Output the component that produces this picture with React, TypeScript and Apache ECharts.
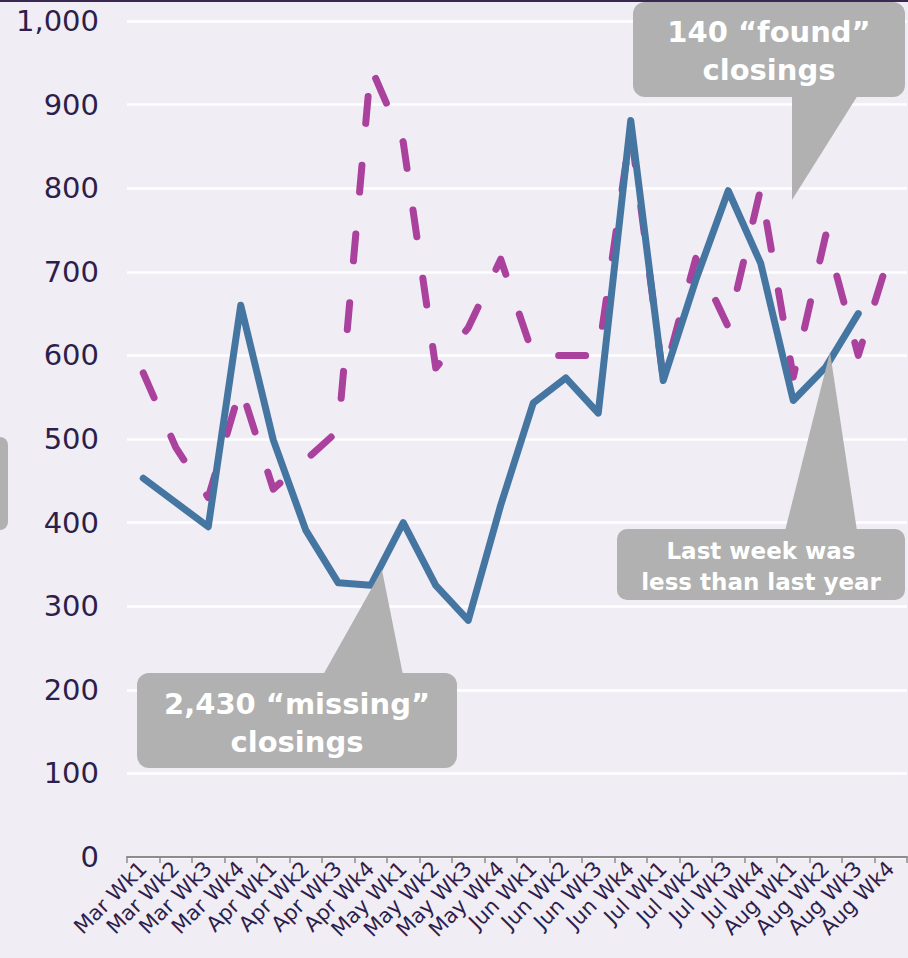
import React, { useEffect, useRef } from "react";
import * as echarts from "echarts";

const categories = [
  "Mar Wk1", "Mar Wk2", "Mar Wk3", "Mar Wk4",
  "Apr Wk1", "Apr Wk2", "Apr Wk3", "Apr Wk4",
  "May Wk1", "May Wk2", "May Wk3", "May Wk4",
  "Jun Wk1", "Jun Wk2", "Jun Wk3", "Jun Wk4",
  "Jul Wk1", "Jul Wk2", "Jul Wk3", "Jul Wk4",
  "Aug Wk1", "Aug Wk2", "Aug Wk3", "Aug Wk4",
];

const thisYear: (number | null)[] = [
  453, 424, 395, 660, 499, 391, 328, 325, 400, 325, 283, 421,
  543, 573, 531, 881, 570, 690, 797, 710, 546, 586, 650, null,
];

const lastYear: number[] = [
  579, 490, 430, 562, 440, 475, 510, 945, 855, 585, 633, 715,
  600, 600, 600, 870, 572, 716, 634, 800, 574, 744, 600, 725,
];

const yTicks = [0, 100, 200, 300, 400, 500, 600, 700, 800, 900, 1000];

const callouts = [
  { text: "140 “found”\nclosings" },
  { text: "2,430 “missing”\nclosings" },
  { text: "Last week was\nless than last year" },
];

const GREY = "#b0b1b0";
const INK = "#2d1e4b";

export default function App() {
  const ref = useRef<HTMLDivElement>(null);
  useEffect(() => {
    document.body.style.margin = "0";
    const chart = echarts.init(ref.current!, undefined, { renderer: "svg" });
    const boldFont = "DejaVu Sans";
    chart.setOption({
      animation: false,
      backgroundColor: "#f0edf5",
      grid: { left: 127, right: 1, top: 21, bottom: 101, containLabel: false },
      xAxis: {
        type: "category",
        data: categories,
        boundaryGap: true,
        axisLine: { lineStyle: { color: "#8c8c8c", width: 2 } },
        axisTick: { show: true, length: 6, lineStyle: { color: "#8c8c8c", width: 1.5 } },
        axisLabel: {
          rotate: 45,
          margin: 8,
          interval: 0,
          color: INK,
          fontSize: 21,
          fontFamily: "DejaVu Sans",
        },
        splitLine: { show: false },
      },
      yAxis: {
        type: "value",
        min: yTicks[0],
        max: yTicks[yTicks.length - 1],
        interval: 100,
        axisLine: { show: false },
        axisTick: { show: false },
        axisLabel: {
          margin: 28,
          color: INK,
          fontSize: 29,
          fontFamily: "DejaVu Sans",
          formatter: (v: number) => v.toLocaleString("en-US"),
        },
        splitLine: { show: true, lineStyle: { color: "#ffffff", width: 2.5 } },
      },
      series: [
        {
          name: "Last year",
          type: "line",
          data: lastYear,
          symbol: "none",
          lineStyle: {
            color: "#a9419d",
            width: 7,
            type: [27, 42],
            cap: "round",
            join: "round",
          },
          z: 2,
        },
        {
          name: "This year",
          type: "line",
          data: thisYear,
          symbol: "none",
          connectNulls: false,
          lineStyle: { color: "#4576a2", width: 7, cap: "round", join: "round" },
          z: 3,
        },
      ],
      graphic: [
        { type: "rect", z: 100, shape: { x: 0, y: 0, width: 908, height: 2 }, style: { fill: "#3a2852" } },
        { type: "rect", z: 100, shape: { x: -12, y: 437, width: 20, height: 93, r: 8 }, style: { fill: GREY } },
        // found callout
        { type: "rect", z: 100, shape: { x: 633, y: 2, width: 272, height: 95, r: 12 }, style: { fill: GREY } },
        { type: "polygon", z: 100, shape: { points: [[792, 95], [858, 95], [792, 200]] }, style: { fill: GREY } },
        {
          type: "text", z: 101, x: 769, y: 51,
          style: {
            text: callouts[0].text, fill: "#ffffff", fontSize: 29, fontWeight: "bold", fontFamily: boldFont,
            lineHeight: 38, textAlign: "center", textVerticalAlign: "middle", align: "center", verticalAlign: "middle",
          },
        },
        // missing callout
        { type: "rect", z: 100, shape: { x: 137, y: 673, width: 320, height: 95, r: 12 }, style: { fill: GREY } },
        { type: "polygon", z: 100, shape: { points: [[323, 675], [403, 675], [382, 570]] }, style: { fill: GREY } },
        {
          type: "text", z: 101, x: 297, y: 723,
          style: {
            text: callouts[1].text, fill: "#ffffff", fontSize: 29, fontWeight: "bold", fontFamily: boldFont,
            lineHeight: 38, textAlign: "center", textVerticalAlign: "middle", align: "center", verticalAlign: "middle",
          },
        },
        // last week callout
        { type: "rect", z: 100, shape: { x: 617, y: 529, width: 288, height: 71, r: 10 }, style: { fill: GREY } },
        { type: "polygon", z: 100, shape: { points: [[785, 531], [857, 531], [830, 352]] }, style: { fill: GREY } },
        {
          type: "text", z: 101, x: 761, y: 566,
          style: {
            text: callouts[2].text, fill: "#ffffff", fontSize: 23, fontWeight: "bold", fontFamily: boldFont,
            lineHeight: 31, textAlign: "center", textVerticalAlign: "middle", align: "center", verticalAlign: "middle",
          },
        },
      ],
    });
    return () => chart.dispose();
  }, []);
  return (
    <div
      ref={ref}
      style={{ position: "absolute", left: 0, top: 0, width: 908, height: 958 }}
    />
  );
}
